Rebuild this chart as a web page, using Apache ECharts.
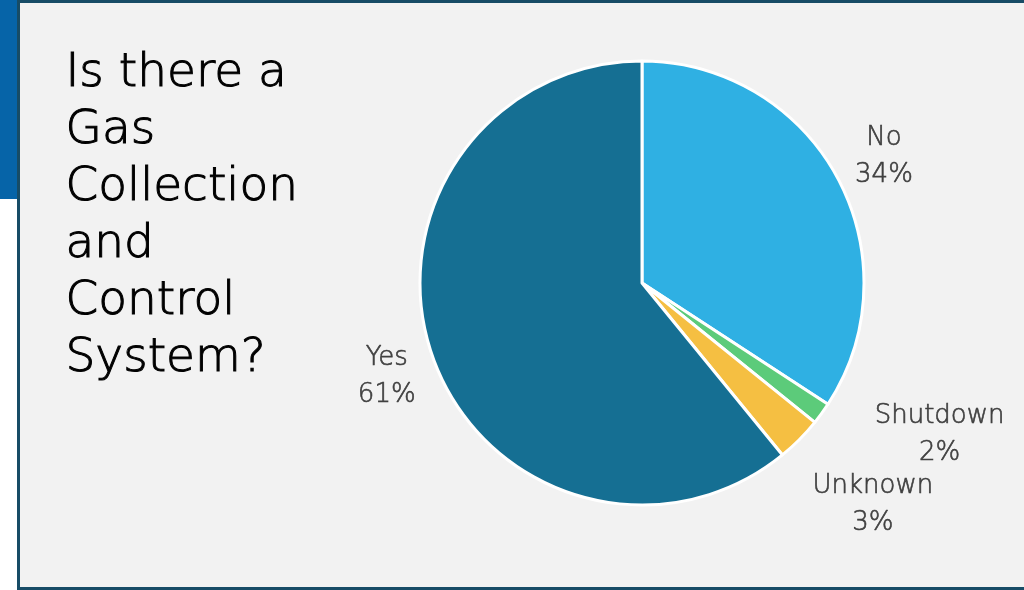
<!DOCTYPE html>
<html>
<head>
<meta charset="utf-8">
<script src="https://cdn.jsdelivr.net/npm/echarts@6/dist/echarts.min.js"></script>
<style>
html,body{margin:0;padding:0;background:#ffffff;}
#main{width:1024px;height:590px;}
</style>
</head>
<body>
<div id="main"></div>
<script>
const categories = ['No', 'Shutdown', 'Unknown', 'Yes'];
const values = [34.2, 1.6, 3.3, 60.9];
const colors = ['#2fb0e3', '#5ccb7a', '#f5bf42', '#156f93'];
const titleLines = ['Is there a', 'Gas', 'Collection', 'and', 'Control', 'System?'];

const CX = 642, CY = 283, R = 222;
// label placement style: radial distance and angular shift (degrees) per label
const labelPlace = [{r: 273, da: 0.85}, {r: 334, da: -9.0}, {r: 320, da: -1.0}, {r: 272, da: -0.6}];

const total = values.reduce((a, b) => a + b, 0);
const midAngles = [];
let acc = 0;
values.forEach(v => { midAngles.push((acc + v / 2) / total * 360); acc += v; });

const chart = echarts.init(document.getElementById('main'), null, {renderer: 'canvas'});
chart.setOption({
  animation: false,
  backgroundColor: 'transparent',
  graphic: [
    {type: 'rect', shape: {x: 0, y: 0, width: 1024, height: 3}, style: {fill: '#13496a'}, z: 0},
    {type: 'rect', shape: {x: 0, y: 0, width: 20, height: 199}, style: {fill: '#0664a8'}, z: 0},
    {type: 'rect', shape: {x: 18.5, y: 1.5, width: 1020, height: 587}, style: {fill: '#f2f2f2', stroke: '#174c66', lineWidth: 3}, z: 1},
    {type: 'text', left: 65, top: 45, z: 5, style: {
      text: titleLines.join('\n'), fill: '#000000', font: '200 47px "DejaVu Sans"', lineHeight: 57,
      stroke: '#000000', lineWidth: 1
    }}
  ],
  series: [{
    type: 'pie',
    center: [CX, CY],
    radius: R,
    startAngle: 90,
    clockwise: true,
    percentPrecision: 0,
    avoidLabelOverlap: false,
    itemStyle: {borderColor: '#ffffff', borderWidth: 3},
    label: {
      show: true,
      position: 'outside',
      formatter: '{b}\n{d}%',
      color: '#404040',
      fontFamily: 'DejaVu Sans',
      fontWeight: 200,
      fontSize: 26,
      lineHeight: 37,
      align: 'center',
      textBorderColor: '#404040',
      textBorderWidth: 0.6
    },
    labelLine: {show: false},
    labelLayout: function (p) {
      const i = p.dataIndex;
      const a = (midAngles[i] + labelPlace[i].da) * Math.PI / 180;
      return {
        x: CX + labelPlace[i].r * Math.sin(a),
        y: CY - labelPlace[i].r * Math.cos(a),
        align: 'center',
        verticalAlign: 'middle'
      };
    },
    data: categories.map((c, i) => ({name: c, value: values[i], itemStyle: {color: colors[i]}}))
  }]
});
</script>
</body>
</html>
